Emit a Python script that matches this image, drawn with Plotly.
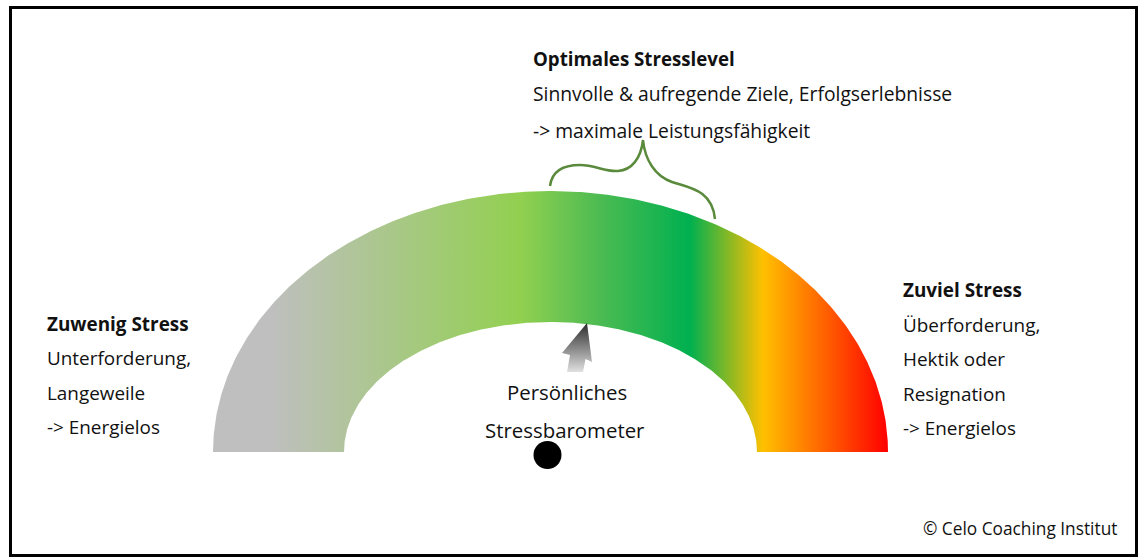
import numpy as np
import plotly.graph_objects as go

# ---- data ----
gauge_stop_x = [213, 270, 520, 600, 690, 763, 888]
gauge_stop_colors = ["#BFBFBF", "#BFBFBF", "#92D050", "#4CBB52", "#00B050", "#FFC000", "#FF0000"]

title_mid = "Optimales Stresslevel"
lines_mid = ["Sinnvolle &amp; aufregende Ziele, Erfolgserlebnisse", "-> maximale Leistungsfähigkeit"]
title_left = "Zuwenig Stress"
lines_left = ["Unterforderung,", "Langeweile", "-> Energielos"]
title_right = "Zuviel Stress"
lines_right = ["Überforderung,", "Hektik oder", "Resignation", "-> Energielos"]
center_lines = ["Persönliches", "Stressbarometer"]
copyright_text = "© Celo Coaching Institut"

# ---- geometry (pixel-like coordinates) ----
W, H = 1141, 559
cx, cy = 550.5, 452
outer_rx, outer_ry = 337.5, 261
inner_rx, inner_ry = 206.5, 130

th = np.linspace(np.pi, 0, 400)
ox = cx + outer_rx * np.cos(th)
oy = cy - outer_ry * np.sin(th)
ix = cx + inner_rx * np.cos(th[::-1])
iy = cy - inner_ry * np.sin(th[::-1])
ring_x = np.concatenate([ox, ix, [ox[0]]])
ring_y = np.concatenate([oy, iy, [oy[0]]])

span = gauge_stop_x[-1] - gauge_stop_x[0]
colorscale = [[(p - gauge_stop_x[0]) / span, c] for p, c in zip(gauge_stop_x, gauge_stop_colors)]

fig = go.Figure()
fig.add_trace(go.Scatter(
    x=ring_x, y=ring_y, mode="lines", fill="toself",
    line=dict(width=0, color="rgba(0,0,0,0)"),
    fillgradient=dict(type="horizontal", colorscale=colorscale,
                      start=gauge_stop_x[0], stop=gauge_stop_x[-1]),
    hoverinfo="skip", showlegend=False))

# arrow
arrow_x = [587, 592, 585.5, 583, 567, 570, 562, 587]
arrow_y = [323, 362, 359, 372, 372, 355, 353, 323]
fig.add_trace(go.Scatter(
    x=arrow_x, y=arrow_y, mode="lines", fill="toself",
    line=dict(width=0, color="rgba(0,0,0,0)"),
    fillgradient=dict(type="vertical", colorscale=[[0, "#2A2A2A"], [1, "#E0E0E0"]],
                      start=323, stop=372),
    hoverinfo="skip", showlegend=False))

# dot
fig.add_trace(go.Scatter(x=[547.5], y=[455], mode="markers",
                         marker=dict(size=28, color="black"),
                         hoverinfo="skip", showlegend=False))

shapes = [
    dict(type="rect", xref="x", yref="y", x0=10.5, x1=1136.5, y0=7.5, y1=555.5,
         line=dict(color="black", width=3), fillcolor="rgba(0,0,0,0)"),
    dict(type="path", xref="x", yref="y",
         path="M 550 186 C 552 170, 565 165, 580 165 C 595 165, 605 172, 618 171 "
              "C 632 170, 641 158, 643 140 C 645 160, 655 176, 672 182 "
              "C 690 188, 712 190, 715 219",
         line=dict(color="#5A8A3C", width=2.5)),
]

font = "Open Sans"
ann = []
def add(text, x, y, size, bold=False, xanchor="left"):
    ann.append(dict(text=f"<b>{text}</b>" if bold else text, x=x, y=y, xref="x", yref="y",
                    xanchor=xanchor, yanchor="middle", showarrow=False,
                    font=dict(family=font, size=size, color="#111111")))

add(title_mid, 531, 58, 18.7, bold=True)
for i, t in enumerate(lines_mid):
    add(t, 531, 93 + 37 * i, 19.3)
add(title_left, 45, 324, 18.9, bold=True)
for i, t in enumerate(lines_left):
    add(t, 45, 358 + 34.5 * i, 18.9)
add(title_right, 901, 290, 18.9, bold=True)
for i, t in enumerate(lines_right):
    add(t, 901, 325 + 34.3 * i, 18.9)
add(center_lines[0], 567, 392, 20.4, xanchor="center")
add(center_lines[1], 565, 430, 20.4, xanchor="center")
add(copyright_text, 1020, 528, 17.3, xanchor="center")

fig.update_layout(
    width=W, height=H, autosize=False,
    margin=dict(l=0, r=0, t=0, b=0),
    paper_bgcolor="white", plot_bgcolor="white",
    xaxis=dict(range=[0, W], visible=False, fixedrange=True),
    yaxis=dict(range=[H, 0], visible=False, fixedrange=True),
    shapes=shapes, annotations=ann,
)
fig.write_html("out.html", config={"displayModeBar": False},
               post_script="document.body.style.margin='0';document.body.style.overflow='hidden';")
